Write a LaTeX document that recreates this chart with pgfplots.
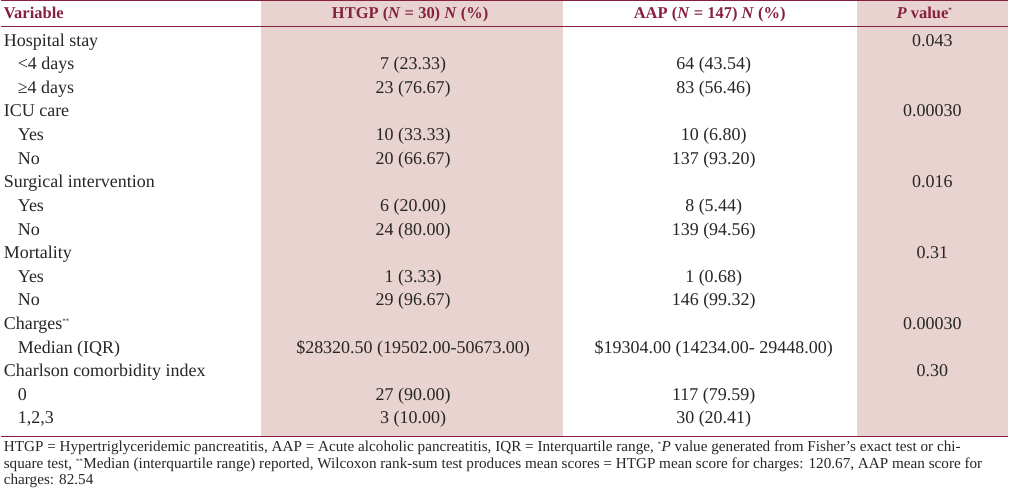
\documentclass[border=0pt]{standalone}
\usepackage{fontspec}
\setmainfont{Liberation Serif}
\usepackage{pgfplots}
\pgfplotsset{compat=1.18}
\definecolor{shade}{HTML}{E9D3D0}
\definecolor{maroon}{HTML}{86203F}
\definecolor{txt}{HTML}{262626}
\begin{document}
\begin{tikzpicture}
\begin{axis}[
  width=1009pt, height=489pt, scale only axis,
  xmin=0, xmax=1009, ymin=0, ymax=489, y dir=reverse,
  hide axis, clip=false,
]
% shaded columns
\addplot[fill=shade, draw=none] coordinates {(261,437) (563,437)} \closedcycle;
\addplot[fill=shade, draw=none] coordinates {(857,437) (1009,437)} \closedcycle;
% rules
\addplot[maroon, line width=1.3pt] coordinates {(0,0.8) (1009,0.8)};
\addplot[maroon, line width=1.0pt] coordinates {(0,27) (1009,27)};
\addplot[maroon, line width=1.3pt] coordinates {(0,437) (1009,437)};
% header
\begin{scope}[every node/.style={font=\fontsize{16.5}{18}\selectfont\bfseries, text=maroon, inner sep=0pt}]
\node[anchor=base west] at (axis cs:3,19) {Variable};
\node[anchor=base] at (axis cs:410,19) {HTGP (\textit{N} = 30) \textit{N} (\%)};
\node[anchor=base] at (axis cs:710,19) {AAP (\textit{N} = 147) \textit{N} (\%)};
\node[anchor=base] at (axis cs:925,19) {\textit{P} value\textsuperscript{\scriptsize *}};
\end{scope}
% body
\begin{scope}[every node/.style={font=\fontsize{18}{20}\selectfont, text=txt, inner sep=0pt}]
% variable column
\node[anchor=base west] at (axis cs:3,47) {Hospital stay};
\node[anchor=base west] at (axis cs:17,70) {<4 days};
\node[anchor=base west] at (axis cs:17,94) {≥4 days};
\node[anchor=base west] at (axis cs:3,117) {ICU care};
\node[anchor=base west] at (axis cs:17,141) {Yes};
\node[anchor=base west] at (axis cs:17,165) {No};
\node[anchor=base west] at (axis cs:3,188) {Surgical intervention};
\node[anchor=base west] at (axis cs:17,212) {Yes};
\node[anchor=base west] at (axis cs:17,236) {No};
\node[anchor=base west] at (axis cs:3,259) {Mortality};
\node[anchor=base west] at (axis cs:17,283) {Yes};
\node[anchor=base west] at (axis cs:17,306) {No};
\node[anchor=base west] at (axis cs:3,330) {Charges\textsuperscript{\scriptsize **}};
\node[anchor=base west] at (axis cs:17,354) {Median (IQR)};
\node[anchor=base west] at (axis cs:3,377) {Charlson comorbidity index};
\node[anchor=base west] at (axis cs:17,401) {0};
\node[anchor=base west] at (axis cs:17,424) {1,2,3};
% HTGP
\node[anchor=base] at (axis cs:413,70) {7 (23.33)};
\node[anchor=base] at (axis cs:413,94) {23 (76.67)};
\node[anchor=base] at (axis cs:413,141) {10 (33.33)};
\node[anchor=base] at (axis cs:413,165) {20 (66.67)};
\node[anchor=base] at (axis cs:413,212) {6 (20.00)};
\node[anchor=base] at (axis cs:413,236) {24 (80.00)};
\node[anchor=base] at (axis cs:413,283) {1 (3.33)};
\node[anchor=base] at (axis cs:413,306) {29 (96.67)};
\node[anchor=base] at (axis cs:413,354) {\$28320.50 (19502.00-50673.00)};
\node[anchor=base] at (axis cs:413,401) {27 (90.00)};
\node[anchor=base] at (axis cs:413,424) {3 (10.00)};
% AAP
\node[anchor=base] at (axis cs:714,70) {64 (43.54)};
\node[anchor=base] at (axis cs:714,94) {83 (56.46)};
\node[anchor=base] at (axis cs:714,141) {10 (6.80)};
\node[anchor=base] at (axis cs:714,165) {137 (93.20)};
\node[anchor=base] at (axis cs:714,212) {8 (5.44)};
\node[anchor=base] at (axis cs:714,236) {139 (94.56)};
\node[anchor=base] at (axis cs:714,283) {1 (0.68)};
\node[anchor=base] at (axis cs:714,306) {146 (99.32)};
\node[anchor=base] at (axis cs:714,354) {\$19304.00 (14234.00- 29448.00)};
\node[anchor=base] at (axis cs:714,401) {117 (79.59)};
\node[anchor=base] at (axis cs:714,424) {30 (20.41)};
% P value
\node[anchor=base] at (axis cs:933,47) {0.043};
\node[anchor=base] at (axis cs:933,117) {0.00030};
\node[anchor=base] at (axis cs:933,188) {0.016};
\node[anchor=base] at (axis cs:933,259) {0.31};
\node[anchor=base] at (axis cs:933,330) {0.00030};
\node[anchor=base] at (axis cs:933,377) {0.30};
\end{scope}
% footnote
\begin{scope}[every node/.style={font=\fontsize{15.2}{16}\selectfont, text=txt, inner sep=0pt, anchor=base west}]
\node at (axis cs:3,452) {HTGP = Hypertriglyceridemic pancreatitis, AAP = Acute alcoholic pancreatitis, IQR = Interquartile range, \textsuperscript{\scriptsize *}\textit{P} value generated from Fisher's exact test or chi-};
\node at (axis cs:3,469) {square test, \textsuperscript{\scriptsize **}Median (interquartile range) reported, Wilcoxon rank-sum test produces mean scores = HTGP mean score for charges: 120.67, AAP mean score for};
\node at (axis cs:3,485) {charges: 82.54};
\end{scope}
\end{axis}
\end{tikzpicture}
\end{document}
